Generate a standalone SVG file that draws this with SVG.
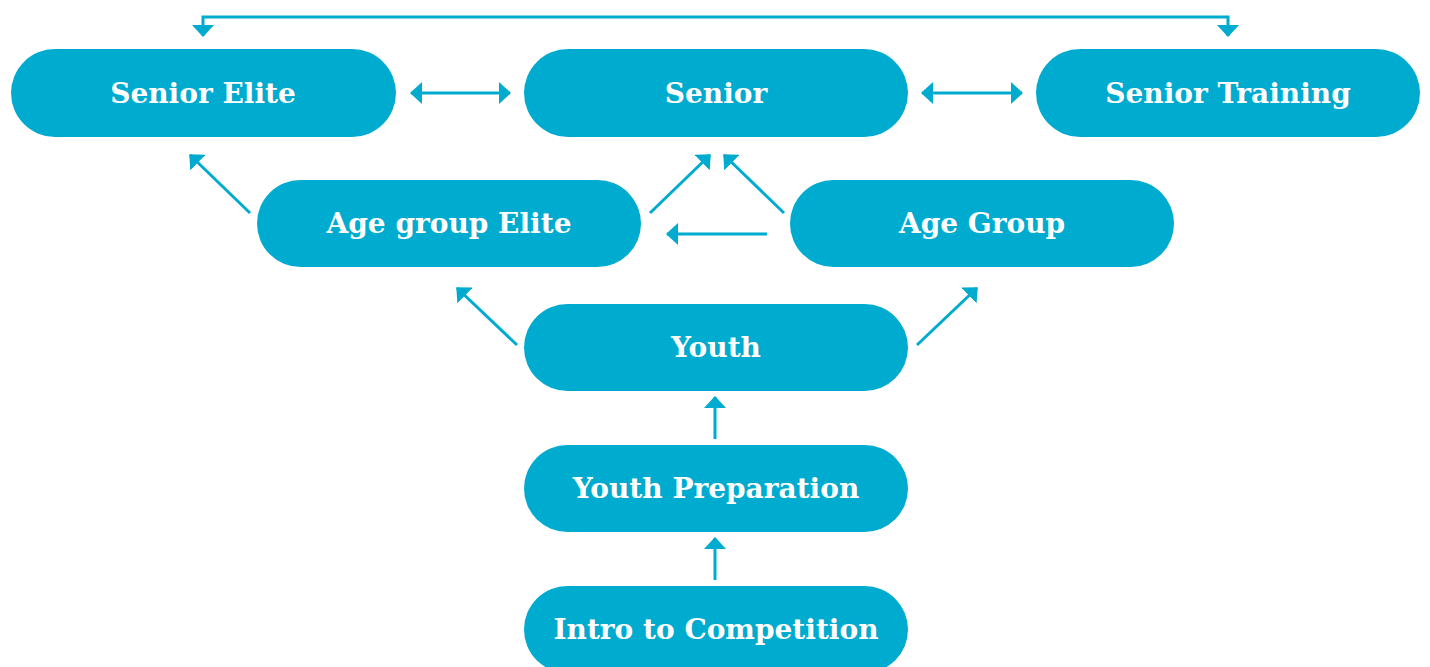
<svg xmlns="http://www.w3.org/2000/svg" width="1430" height="667" viewBox="0 0 1430 667">
  <defs>
    <style>
      .node rect { fill: #00abd0; }
      .node text { fill: #ffffff; font-family: "DejaVu Serif", "Liberation Serif", serif; font-weight: bold; font-size: 28px; text-anchor: middle; }
      .conn { fill: none; stroke: #00abd0; stroke-width: 3; }
    </style>
    <marker id="head" viewBox="0 0 12 22" refX="11" refY="11" markerWidth="12" markerHeight="22" markerUnits="userSpaceOnUse" orient="auto-start-reverse">
      <path d="M0,0 L12,11 L0,22 z" fill="#00abd0"/>
    </marker>
  </defs>

  <!-- connectors -->
  <g id="connectors">
    <path class="conn" d="M203,36 V17 H1228 V36" marker-start="url(#head)" marker-end="url(#head)"/>
    <line class="conn" x1="411" y1="93" x2="510" y2="93" marker-start="url(#head)" marker-end="url(#head)"/>
    <line class="conn" x1="922" y1="93" x2="1022" y2="93" marker-start="url(#head)" marker-end="url(#head)"/>
    <line class="conn" x1="250" y1="213" x2="190" y2="155" marker-end="url(#head)"/>
    <line class="conn" x1="650" y1="213" x2="710" y2="155" marker-end="url(#head)"/>
    <line class="conn" x1="784" y1="213" x2="724" y2="155" marker-end="url(#head)"/>
    <line class="conn" x1="767" y1="234" x2="667" y2="234" marker-end="url(#head)"/>
    <line class="conn" x1="517" y1="345" x2="457" y2="288" marker-end="url(#head)"/>
    <line class="conn" x1="917" y1="345" x2="977" y2="288" marker-end="url(#head)"/>
    <line class="conn" x1="715" y1="439" x2="715" y2="397" marker-end="url(#head)"/>
    <line class="conn" x1="715" y1="580" x2="715" y2="538" marker-end="url(#head)"/>
  </g>

  <!-- nodes -->
  <g id="senior-elite" class="node">
    <rect x="11" y="49" width="385" height="88" rx="44"/>
    <text x="203" y="103">Senior Elite</text>
  </g>
  <g id="senior" class="node">
    <rect x="524" y="49" width="384" height="88" rx="44"/>
    <text x="716" y="103">Senior</text>
  </g>
  <g id="senior-training" class="node">
    <rect x="1036" y="49" width="384" height="88" rx="44"/>
    <text x="1228" y="103">Senior Training</text>
  </g>
  <g id="age-group-elite" class="node">
    <rect x="257" y="180" width="384" height="87" rx="43.5"/>
    <text x="449" y="233">Age group Elite</text>
  </g>
  <g id="age-group" class="node">
    <rect x="790" y="180" width="384" height="87" rx="43.5"/>
    <text x="982" y="233">Age Group</text>
  </g>
  <g id="youth" class="node">
    <rect x="524" y="304" width="384" height="87" rx="43.5"/>
    <text x="716" y="357">Youth</text>
  </g>
  <g id="youth-preparation" class="node">
    <rect x="524" y="445" width="384" height="87" rx="43.5"/>
    <text x="716" y="498">Youth Preparation</text>
  </g>
  <g id="intro-to-competition" class="node">
    <rect x="524" y="586" width="384" height="87" rx="43.5"/>
    <text x="716" y="639">Intro to Competition</text>
  </g>
</svg>
